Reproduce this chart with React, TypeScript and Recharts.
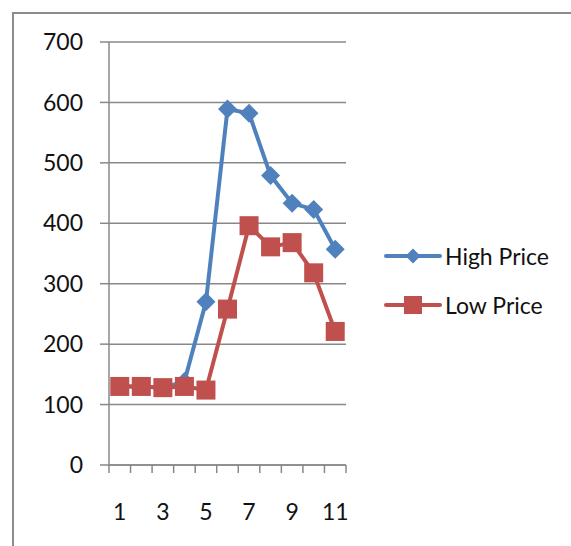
import React from "react";
import {
  LineChart,
  Line,
  XAxis,
  YAxis,
  CartesianGrid,
} from "recharts";

const periods = [1, 2, 3, 4, 5, 6, 7, 8, 9, 10, 11];
const highPrice = [130, 130, 128, 138, 270, 589, 582, 479, 433, 423, 357];
const lowPrice = [130, 130, 128, 130, 124, 258, 396, 361, 368, 318, 221];
const yTicks = [0, 100, 200, 300, 400, 500, 600, 700];
const xLabels = [1, 3, 5, 7, 9, 11];
const seriesNames = ["High Price", "Low Price"];

const BLUE = "#4F81BD";
const RED = "#C0504D";
const GRID = "#888888";
const FONT = "Lato, 'Open Sans', sans-serif";

const data = periods.map((p, i) => ({
  x: p,
  high: highPrice[i],
  low: lowPrice[i],
}));

// category boundaries (tick marks) plus label positions
const xTicks = [
  ...periods.map((p) => p - 0.5),
  periods[periods.length - 1] + 0.5,
  ...xLabels,
].sort((a, b) => a - b);

function Diamond(props: any) {
  const { cx, cy } = props;
  if (cx == null || cy == null) return <g />;
  const r = 9.5;
  return (
    <polygon
      points={`${cx},${cy - r} ${cx + r},${cy} ${cx},${cy + r} ${cx - r},${cy}`}
      fill={BLUE}
    />
  );
}

function Square(props: any) {
  const { cx, cy } = props;
  if (cx == null || cy == null) return <g />;
  const h = 9.5;
  return <rect x={cx - h} y={cy - h} width={h * 2} height={h * 2} fill={RED} />;
}

function XTick(props: any) {
  const { x, y, payload } = props;
  const v = payload.value;
  if (v % 1 !== 0) {
    return <line x1={x} x2={x} y1={y} y2={y + 8} stroke={GRID} strokeWidth={1.5} />;
  }
  if (xLabels.includes(v)) {
    return (
      <text
        x={x}
        y={y + 46}
        textAnchor="middle"
        dominantBaseline="central"
        fontSize={23}
        fontFamily={FONT}
        fill="#111"
      >
        {v}
      </text>
    );
  }
  return <g />;
}

function LegendBox() {
  const items = [
    { name: seriesNames[0], color: BLUE, marker: "diamond" },
    { name: seriesNames[1], color: RED, marker: "square" },
  ];
  return (
    <div style={{ position: "absolute", left: 383, top: 239 }}>
      {items.map((it) => (
        <div
          key={it.name}
          style={{ display: "flex", alignItems: "center", height: 34, marginBottom: 15 }}
        >
          <svg width={60} height={24}>
            <line x1={3} x2={57} y1={12} y2={12} stroke={it.color} strokeWidth={4} strokeLinecap="round" />
            {it.marker === "diamond" ? (
              <polygon points="30,4.5 37.5,12 30,19.5 22.5,12" fill={it.color} />
            ) : (
              <rect x={21} y={3} width={18} height={18} fill={it.color} />
            )}
          </svg>
          <span style={{ fontFamily: FONT, fontSize: 23, color: "#111", marginLeft: 2 }}>
            {it.name}
          </span>
        </div>
      ))}
    </div>
  );
}

export default function App() {
  return (
    <div
      style={{
        position: "fixed",
        left: 0,
        top: 0,
        width: 571,
        height: 546,
        overflow: "hidden",
        background: "#fff",
      }}
    >
      <div
        style={{
          position: "absolute",
          left: 12,
          top: 12,
          width: 700,
          height: 700,
          border: "2.5px solid #8c8c8c",
        }}
      />
      <div style={{ position: "absolute", left: 0, top: 0 }}>
        <LineChart
          width={571}
          height={546}
          data={data}
          margin={{ top: 42, right: 225, bottom: 51, left: 49 }}
        >
          <CartesianGrid vertical={false} stroke={GRID} strokeWidth={1.5} />
          <XAxis
            dataKey="x"
            type="number"
            domain={[0.5, 11.5]}
            ticks={xTicks}
            interval={0}
            height={30}
            tickLine={false}
            tickSize={0}
            tickMargin={0}
            axisLine={{ stroke: GRID, strokeWidth: 1.5 }}
            tick={<XTick />}
          />
          <YAxis
            domain={[0, 700]}
            ticks={yTicks}
            interval={0}
            width={60}
            tickSize={9}
            tickMargin={17}
            axisLine={{ stroke: GRID, strokeWidth: 1.5 }}
            tickLine={{ stroke: GRID, strokeWidth: 1.5 }}
            tick={{ fontSize: 23, fill: "#111", fontFamily: FONT }}
          />
          <Line
            dataKey="high"
            name={seriesNames[0]}
            stroke={BLUE}
            strokeWidth={4}
            dot={<Diamond />}
            activeDot={false}
            isAnimationActive={false}
          />
          <Line
            dataKey="low"
            name={seriesNames[1]}
            stroke={RED}
            strokeWidth={4}
            dot={<Square />}
            activeDot={false}
            isAnimationActive={false}
          />
        </LineChart>
      </div>
      <LegendBox />
    </div>
  );
}
